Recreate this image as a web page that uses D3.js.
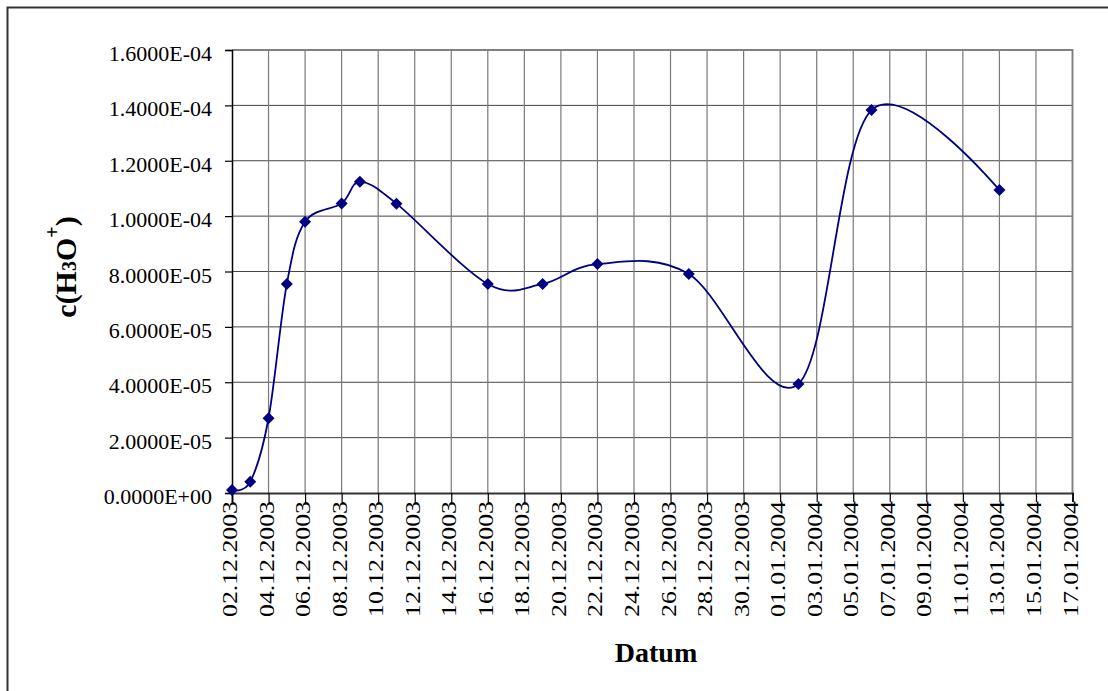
<!DOCTYPE html>
<html>
<head>
<meta charset="utf-8">
<script src="https://cdn.jsdelivr.net/npm/d3@7"></script>
<style>
  html, body { margin: 0; padding: 0; background: #fff; }
  svg { display: block; }
</style>
</head>
<body>
<svg id="chart" width="1108" height="691"></svg>
<script>
// ---- data ----
const dates = ["02.12.2003","03.12.2003","04.12.2003","05.12.2003","06.12.2003","08.12.2003",
  "09.12.2003","11.12.2003","16.12.2003","19.12.2003","22.12.2003","27.12.2003",
  "02.01.2004","06.01.2004","13.01.2004"];
const values = [1.1e-6, 4.1e-6, 2.70e-5, 7.55e-5, 9.80e-5, 1.046e-4,
  1.124e-4, 1.045e-4, 7.55e-5, 7.55e-5, 8.27e-5, 7.91e-5,
  3.94e-5, 1.383e-4, 1.094e-4];
const xTickLabels = ["02.12.2003","04.12.2003","06.12.2003","08.12.2003","10.12.2003","12.12.2003",
  "14.12.2003","16.12.2003","18.12.2003","20.12.2003","22.12.2003","24.12.2003","26.12.2003",
  "28.12.2003","30.12.2003","01.01.2004","03.01.2004","05.01.2004","07.01.2004","09.01.2004",
  "11.01.2004","13.01.2004","15.01.2004","17.01.2004"];
const yTicks = [0, 2e-5, 4e-5, 6e-5, 8e-5, 1e-4, 1.2e-4, 1.4e-4, 1.6e-4];
const xTitle = "Datum";

// ---- layout ----
const FONT = '"Liberation Serif", "Times New Roman", Times, "DejaVu Serif", serif';
const parse = d3.utcParse("%d.%m.%Y");
const L = 232, R = 1072.5, T = 50, B = 493;
const svg = d3.select("#chart");

const x = d3.scaleUtc()
  .domain([parse(xTickLabels[0]), parse(xTickLabels[xTickLabels.length - 1])])
  .range([L, R]);
const y = d3.scaleLinear().domain([0, 1.6e-4]).range([B, T]);

function fmtE(v) {
  const s = v.toExponential(4);
  const [m, e] = s.split("e");
  const n = parseInt(e, 10);
  const sign = n < 0 ? "-" : "+";
  return m + "E" + sign + String(Math.abs(n)).padStart(2, "0");
}

// outer frame
svg.append("rect").attr("x", 7.5).attr("y", 7.5).attr("width", 1300).attr("height", 1000)
  .attr("fill", "#fff").attr("stroke", "#333").attr("stroke-width", 2);

// gridlines
const grid = svg.append("g");
grid.selectAll("line.h").data(yTicks.filter(v => v > 0)).join("line")
  .attr("x1", L).attr("x2", R)
  .attr("y1", d => y(d)).attr("y2", d => y(d))
  .attr("stroke", "#444").attr("stroke-width", 1);
grid.selectAll("line.v").data(xTickLabels.slice(1)).join("line")
  .attr("x1", d => x(parse(d))).attr("x2", d => x(parse(d)))
  .attr("y1", T).attr("y2", B)
  .attr("stroke", "#7a7a7a").attr("stroke-width", 1.2);

// plot border (top/right)
svg.append("path")
  .attr("d", `M${L},${T}H${R}V${B}`)
  .attr("fill", "none").attr("stroke", "#808080").attr("stroke-width", 1.8);

// y axis
const yAxis = svg.append("g").attr("transform", `translate(${L},0)`)
  .call(d3.axisLeft(y).tickValues(yTicks).tickSize(7).tickPadding(13).tickFormat(fmtE));
yAxis.attr("font-family", FONT).attr("font-size", 22);
yAxis.select(".domain").attr("stroke", "#000").attr("stroke-width", 1.5);
yAxis.selectAll(".tick line").attr("stroke", "#000").attr("stroke-width", 1.2);
yAxis.selectAll(".tick text")
  .attr("font-family", FONT).attr("font-size", 22)
  .attr("dy", "0.48em").attr("fill", "#000");

// x axis
const xAxis = svg.append("g").attr("transform", `translate(0,${B})`)
  .call(d3.axisBottom(x).tickValues(xTickLabels.map(parse)).tickSize(9).tickFormat(() => ""));
xAxis.select(".domain").attr("stroke", "#333").attr("stroke-width", 2);
xAxis.selectAll(".tick line").attr("stroke", "#000").attr("stroke-width", 1.2);

svg.append("g").selectAll("text").data(xTickLabels).join("text")
  .attr("transform", d => `translate(${x(parse(d))},${B + 8}) rotate(-90)`)
  .attr("text-anchor", "end")
  .attr("dy", 5)
  .attr("textLength", 116)
  .attr("lengthAdjust", "spacingAndGlyphs")
  .attr("font-family", FONT)
  .attr("font-size", 22)
  .attr("fill", "#000")
  .text(d => d);

// axis titles
svg.append("text")
  .attr("x", 656).attr("y", 662)
  .attr("text-anchor", "middle")
  .attr("font-family", FONT)
  .attr("font-size", 28).attr("font-weight", "bold")
  .text(xTitle);

const yt = svg.append("text")
  .attr("transform", "translate(76,267) rotate(-90)")
  .attr("text-anchor", "middle")
  .attr("font-family", FONT)
  .attr("font-size", 30).attr("font-weight", "bold");
yt.append("tspan").text("c(H");
yt.append("tspan").attr("font-size", 20).text("3");
yt.append("tspan").text("O");
yt.append("tspan").attr("font-size", 20).attr("dy", -17).text("+");
yt.append("tspan").attr("dy", 17).text(")");

// series
const pts = dates.map((d, i) => [x(parse(d)), y(values[i])]);
svg.append("path")
  .attr("d", d3.line().curve(d3.curveCardinal.tension(0))(pts))
  .attr("fill", "none").attr("stroke", "#000080").attr("stroke-width", 1.8);

svg.append("g").selectAll("path").data(pts).join("path")
  .attr("transform", d => `translate(${d[0]},${d[1]}) rotate(45)`)
  .attr("d", d3.symbol().type(d3.symbolSquare).size(72)())
  .attr("fill", "#000080");
</script>
</body>
</html>
